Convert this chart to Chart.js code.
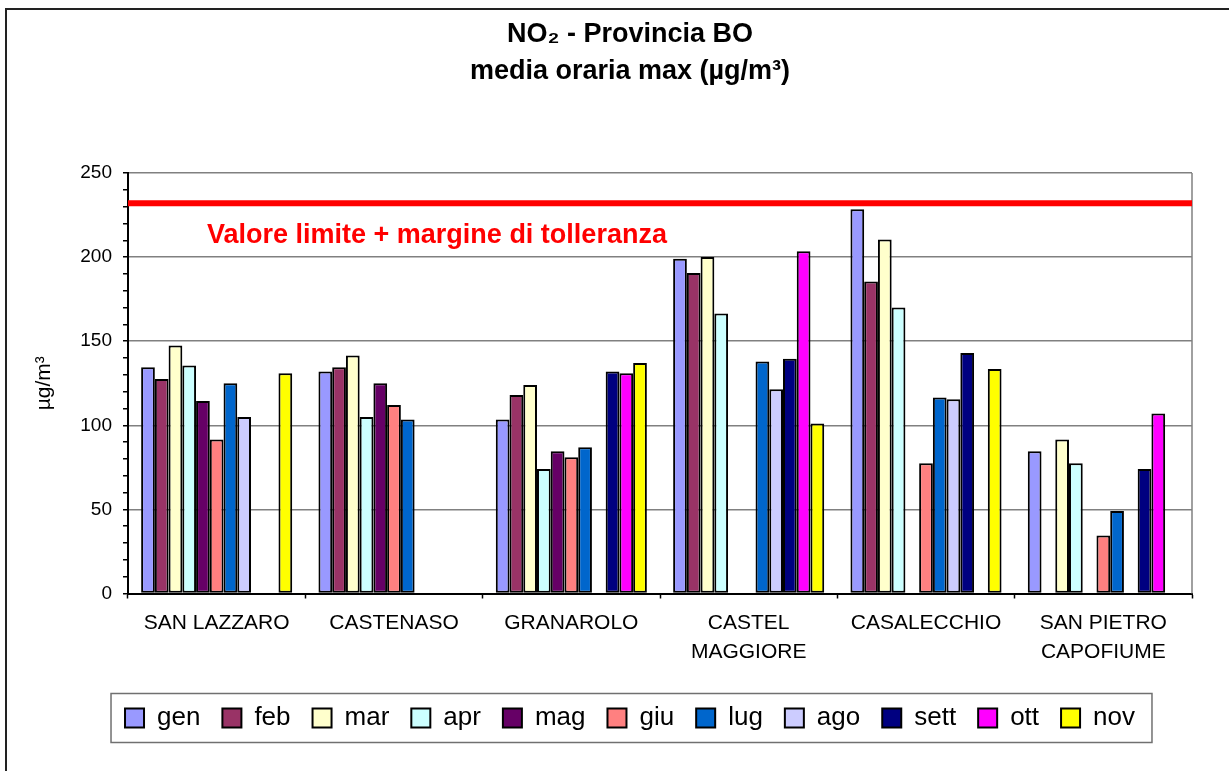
<!DOCTYPE html>
<html lang="it">
<head>
  <meta charset="UTF-8">
  <title>NO2 - Provincia BO</title>
  <script src="https://cdn.jsdelivr.net/npm/chart.js"></script>
  <style>
    html, body { margin: 0; padding: 0; background: #fff; }
    body { width: 1229px; height: 771px; overflow: hidden; position: relative; }
    .frame { position: absolute; left: 5px; top: 8px; width: 1260px; height: 800px; border: 2px solid #222; }
    .wrap { position: absolute; left: 0; top: 0; width: 1229px; height: 771px; }
  </style>
</head>
<body>
  <div class="frame"></div>
  <div class="wrap"><canvas id="chart"></canvas></div>

  <script>
    // stazioni
    const stations = ['SAN LAZZARO', 'CASTENASO', 'GRANAROLO', ['CASTEL', 'MAGGIORE'], 'CASALECCHIO', ['SAN PIETRO', 'CAPOFIUME']];
    const months = ['gen', 'feb', 'mar', 'apr', 'mag', 'giu', 'lug', 'ago', 'sett', 'ott', 'nov'];

    // media oraria max (µg/m3) per mese
    const gen  = [134.5, 132,   103.5, 199,   228.5, 84.5];
    const feb  = [127.5, 134.5, 118,   190.5, 185.5, null];
    const mar  = [147.5, 141.5, 124,   200,   210.5, 91.5];
    const apr  = [135.5, 105,   74,    166.5, 170,   77.5];
    const mag  = [114.5, 125,   84.5,  null,  null,  null];
    const giu  = [91.5,  112,   81,    null,  77.5,  34.5];
    const lug  = [125,   103.5, 87,    138,   116.5, 49];
    const ago  = [105,   null,  null,  121.5, 115.5, null];
    const sett = [null,  null,  132,   139.5, 143,   74];
    const ott  = [null,  null,  131,   203.5, null,  107];
    const nov  = [131,   null,  137,   101,   133.5, null];

    const monthColors = ['#9999FF', '#993366', '#FFFFCC', '#CCFFFF', '#660066', '#FF8080',
                         '#0066CC', '#CCCCFF', '#000080', '#FF00FF', '#FFFF00'];

    // valore limite + margine di tolleranza
    const limitValue = 232;
    const limitLabel = 'Valore limite + margine di tolleranza';

    const yTicks = [0, 50, 100, 150, 200, 250];

    const FONT = "'Liberation Sans', Arial, sans-serif";
    const series = [gen, feb, mar, apr, mag, giu, lug, ago, sett, ott, nov];

    const datasets = months.map((m, i) => ({
      label: m,
      data: series[i],
      backgroundColor: monthColors[i],
      borderColor: '#000',
      borderWidth: 2,
      borderSkipped: false,
      categoryPercentage: 0.852,
      barPercentage: 1.0
    }));

    // linea del limite, bordo area e cornice della legenda
    const extras = {
      id: 'extras',
      beforeDatasetsDraw(chart) {
        const {ctx, chartArea: a} = chart;
        ctx.save();
        ctx.strokeStyle = '#808080';
        ctx.lineWidth = 1.5;
        ctx.beginPath();
        ctx.moveTo(a.right, a.top);
        ctx.lineTo(a.right, a.bottom);
        ctx.stroke();
        ctx.restore();
      },
      afterDatasetsDraw(chart) {
        const {ctx, chartArea: a, scales: {y}} = chart;
        const py = y.getPixelForValue(limitValue);
        ctx.save();
        ctx.strokeStyle = '#FF0000';
        ctx.lineWidth = 6;
        ctx.beginPath();
        ctx.moveTo(a.left, py);
        ctx.lineTo(a.right, py);
        ctx.stroke();
        ctx.fillStyle = '#FF0000';
        ctx.font = 'bold 27px ' + FONT;
        ctx.textBaseline = 'alphabetic';
        ctx.textAlign = 'left';
        ctx.fillText(limitLabel, a.left + 79, py + 40);
        ctx.restore();
      },
      afterDraw(chart) {
        const lg = chart.legend;
        if (!lg || !lg.legendHitBoxes.length) return;
        const hb = lg.legendHitBoxes;
        const left = Math.min(...hb.map(h => h.left)) - 14;
        const right = Math.max(...hb.map(h => h.left + h.width)) + 17;
        const cy = hb[0].top + hb[0].height / 2;
        const ctx = chart.ctx;
        ctx.save();
        ctx.strokeStyle = '#707070';
        ctx.lineWidth = 1.5;
        ctx.strokeRect(left, cy - 24.5, right - left, 49);
        ctx.restore();
      }
    };

    new Chart(document.getElementById('chart'), {
      type: 'bar',
      data: { labels: stations, datasets },
      plugins: [extras],
      options: {
        responsive: true,
        maintainAspectRatio: false,
        animation: false,
        layout: { padding: { left: 68, right: 37, top: 0, bottom: 30 } },
        plugins: {
          tooltip: { enabled: false },
          title: {
            display: true,
            text: ['NO\u2082 - Provincia BO', 'media oraria max (\u00b5g/m\u00b3)'],
            color: '#000',
            font: { family: FONT, size: 27, weight: 'bold', lineHeight: '37px' },
            padding: { top: 16.5, bottom: 82.5 }
          },
          legend: {
            position: 'bottom',
            labels: {
              color: '#000',
              font: { family: FONT, size: 26 },
              boxWidth: 19,
              boxHeight: 19,
              padding: 22
            }
          }
        },
        scales: {
          x: {
            afterFit: axis => { axis.height = 89.5; },
            grid: {
              offset: true,
              drawOnChartArea: false,
              tickLength: 5,
              tickColor: '#000',
              tickWidth: 1.5
            },
            border: { color: '#000', width: 2 },
            ticks: {
              color: '#000',
              padding: 10,
              maxRotation: 0,
              autoSkip: false,
              font: { family: FONT, size: 21, lineHeight: '29px' }
            }
          },
          y: {
            min: 0,
            max: 250,
            afterFit: axis => { axis.width = 60; },
            title: {
              display: true,
              text: '\u00b5g/m\u00b3',
              color: '#000',
              font: { family: FONT, size: 21 },
              padding: { top: -36.6, bottom: 0 }
            },
            grid: {
              color: ctx => (ctx.tick && yTicks.includes(ctx.tick.value)) ? '#808080' : 'rgba(0,0,0,0)',
              lineWidth: 1.5,
              tickLength: 5,
              tickColor: '#000',
              tickWidth: 1.5
            },
            border: { color: '#000', width: 2 },
            ticks: {
              stepSize: 10,
              autoSkip: false,
              color: '#000',
              padding: 11,
              font: { family: FONT, size: 19 },
              callback: v => yTicks.includes(v) ? String(v) : ''
            }
          }
        }
      }
    });
  </script>
</body>
</html>
